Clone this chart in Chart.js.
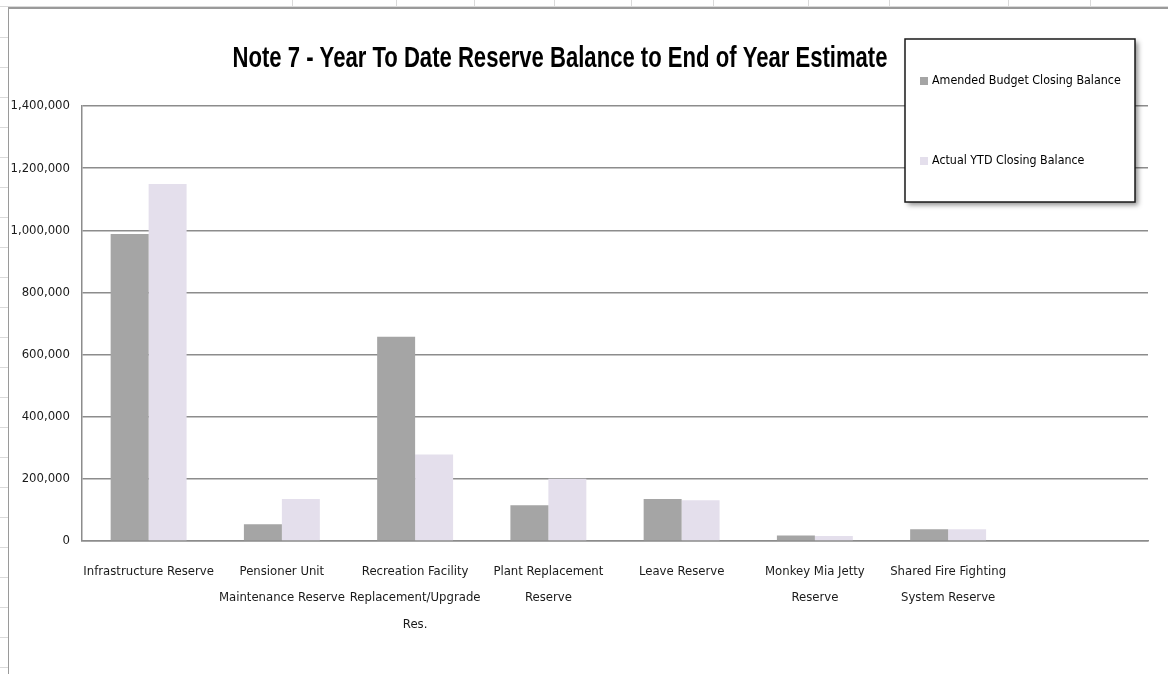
<!DOCTYPE html>
<html>
<head>
<meta charset="utf-8">
<title>Note 7 - Reserve Balance</title>
<script src="https://cdn.jsdelivr.net/npm/chart.js@4.4.1/dist/chart.umd.min.js"></script>
<style>
  html, body { margin: 0; padding: 0; width: 1168px; height: 674px; overflow: hidden; background: #fff; }
  .sheet-line { position: absolute; background: #dadada; }
  #frame { position: absolute; left: 8px; top: 7px; width: 1160px; height: 667px; background: #fff;
           border-left: 1px solid #9a9a9a; border-top: 2px solid #9a9a9a; box-sizing: border-box; }
  #wrap { position: absolute; left: 9px; top: 9px; width: 1159px; height: 665px; }
</style>
</head>
<body>
<div id="frame"></div>
<div id="wrap"><canvas id="reserveChart"></canvas></div>
<script>
// Chart data
const chartTitle = 'Note 7 - Year To Date Reserve Balance to End of Year Estimate'
const categories = [
  ['Infrastructure Reserve'],
  ['Pensioner Unit', 'Maintenance Reserve'],
  ['Recreation Facility', 'Replacement/Upgrade', 'Res.'],
  ['Plant Replacement', 'Reserve'],
  ['Leave Reserve'],
  ['Monkey Mia Jetty', 'Reserve'],
  ['Shared Fire Fighting', 'System Reserve'],
  ['']
]
const amendedBudget = [988000, 54000, 657000, 115000, 135000, 18000, 38000, null]
const actualYTD = [1149000, 135000, 278000, 200000, 131000, 16000, 38000, null]
const seriesNames = ['Amended Budget Closing Balance', 'Actual YTD Closing Balance']
const yTicks = [0, 200000, 400000, 600000, 800000, 1000000, 1200000, 1400000]

const labelFont = "'Liberation Sans Narrow', 'DejaVu Sans Condensed', 'Open Sans', sans-serif"

// spreadsheet gridlines showing around the embedded chart
const sheetCols = [292, 396, 474, 554, 631, 713, 808, 889, 1008, 1090]
sheetCols.forEach((x) => {
  const d = document.createElement('div')
  d.className = 'sheet-line'
  Object.assign(d.style, { left: x + 'px', top: '0px', width: '1px', height: '7px' })
  document.body.insertBefore(d, document.body.firstChild)
})
for (let y = 37; y < 674; y += 30) {
  const d = document.createElement('div')
  d.className = 'sheet-line'
  Object.assign(d.style, { left: '0px', top: y + 'px', width: '8px', height: '1px' })
  document.body.insertBefore(d, document.body.firstChild)
}
const topRow = document.createElement('div')
topRow.className = 'sheet-line'
Object.assign(topRow.style, { left: '0px', top: '6px', width: '1168px', height: '1px' })
document.body.insertBefore(topRow, document.body.firstChild)

// Title drawn narrow, like Calibri in the original sheet
const titlePlugin = {
  id: 'narrowTitle',
  afterDraw(chart) {
    const ctx = chart.ctx
    ctx.save()
    ctx.font = "bold 30px 'Liberation Sans', 'DejaVu Sans', sans-serif"
    ctx.fillStyle = '#000'
    ctx.textBaseline = 'middle'
    ctx.textAlign = 'center'
    const w = ctx.measureText(chartTitle).width
    ctx.translate(551, 50)
    ctx.scale(655 / w, 1)
    ctx.fillText(chartTitle, 0, 0)
    ctx.restore()
  }
}

// Legend box floating over the plot, top right
const legendBoxPlugin = {
  id: 'legendBox',
  afterDatasetsDraw(chart) {
    const ctx = chart.ctx
    const box = { x: 896, y: 30, w: 230, h: 163 }
    ctx.save()
    ctx.shadowColor = 'rgba(0,0,0,0.45)'
    ctx.shadowBlur = 5
    ctx.shadowOffsetX = 3
    ctx.shadowOffsetY = 3
    ctx.fillStyle = '#fff'
    ctx.fillRect(box.x, box.y, box.w, box.h)
    ctx.shadowColor = 'transparent'
    ctx.strokeStyle = '#1a1a1a'
    ctx.lineWidth = 1.5
    ctx.strokeRect(box.x, box.y, box.w, box.h)
    ctx.font = '13px ' + labelFont
    ctx.textBaseline = 'middle'
    chart.data.datasets.forEach((ds, i) => {
      const cy = box.y + 42 + i * 80
      ctx.fillStyle = ds.backgroundColor
      ctx.fillRect(box.x + 15, cy - 4, 8, 8)
      ctx.fillStyle = '#000'
      ctx.save()
      ctx.translate(box.x + 27, cy)
      ctx.scale(0.95, 1)
      ctx.fillText(ds.label, 0, 0)
      ctx.restore()
    })
    ctx.restore()
  }
}

const chart = new Chart(document.getElementById('reserveChart').getContext('2d'), {
  type: 'bar',
  data: {
    labels: categories,
    datasets: [
      {
        label: seriesNames[0],
        data: amendedBudget,
        backgroundColor: '#a5a5a5',
        categoryPercentage: 0.57,
        barPercentage: 1
      },
      {
        label: seriesNames[1],
        data: actualYTD,
        backgroundColor: '#e4dfec',
        categoryPercentage: 0.57,
        barPercentage: 1
      }
    ]
  },
  options: {
    responsive: true,
    maintainAspectRatio: false,
    animation: false,
    layout: {
      padding: { top: 97, right: 20, left: 0, bottom: 0 }
    },
    scales: {
      x: {
        grid: { display: false, drawTicks: false },
        border: { color: '#8c8c8c', width: 1.5 },
        ticks: {
          color: '#1a1a1a',
          padding: 17,
          maxRotation: 0,
          autoSkip: false,
          font: { family: labelFont, size: 13, lineHeight: 2.05 }
        },
        afterFit: (scale) => { scale.height = 133 }
      },
      y: {
        min: 0,
        max: 1400000,
        afterBuildTicks: (scale) => { scale.ticks = yTicks.map((v) => ({ value: v })) },
        grid: { color: '#8c8c8c', lineWidth: 1.5, drawTicks: false },
        border: { color: '#8c8c8c', width: 1.5 },
        ticks: {
          color: '#1a1a1a',
          padding: 12,
          font: { family: labelFont, size: 13 },
          callback: (v) => v.toLocaleString('en-US')
        },
        afterFit: (scale) => { scale.width = 73 }
      }
    },
    plugins: {
      legend: { display: false },
      title: { display: false },
      tooltip: { enabled: false }
    }
  },
  plugins: [titlePlugin, legendBoxPlugin]
})
</script>
</body>
</html>
